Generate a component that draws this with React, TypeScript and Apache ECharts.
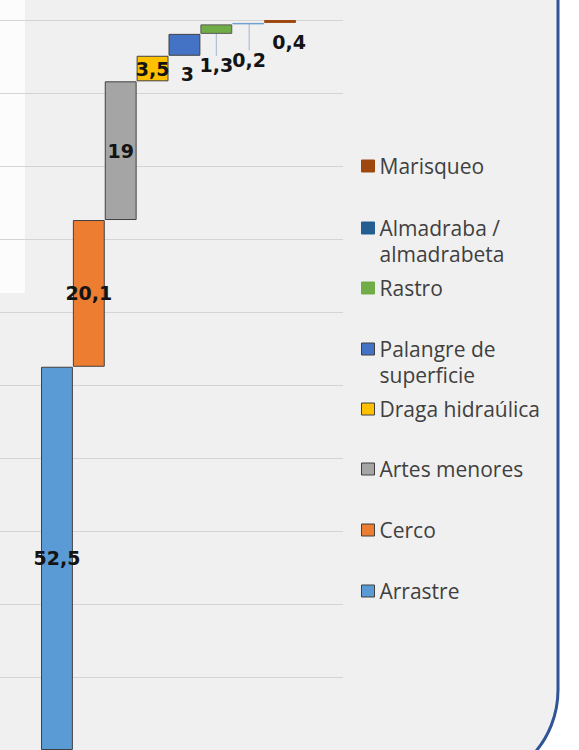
import React, { useEffect, useRef } from 'react';
import * as echarts from 'echarts';

const categories = [
  'Arrastre',
  'Cerco',
  'Artes menores',
  'Draga hidraúlica',
  'Palangre de superficie',
  'Rastro',
  'Almadraba / almadrabeta',
  'Marisqueo',
];
const values = [52.5, 20.1, 19, 3.5, 3, 1.3, 0.2, 0.4];
const colors = ['#5b9bd5', '#ed7d31', '#a5a5a5', '#ffc000', '#4472c4', '#70ad47', '#255e91', '#9e480e'];
const legendOrder = [
  'Marisqueo',
  'Almadraba / almadrabeta',
  'Rastro',
  'Palangre de superficie',
  'Draga hidraúlica',
  'Artes menores',
  'Cerco',
  'Arrastre',
];
const legendText: Record<string, string> = {
  'Almadraba / almadrabeta': '\nAlmadraba /\nalmadrabeta',
  'Palangre de superficie': '\nPalangre de\nsuperficie',
};
const yMin = 0;
const yMax = 100;
const yInterval = 10;

// layout (not data)
const legendCenters = [166, 228, 288, 349, 409, 469, 530, 591];
const labelPlacement: any[] = [
  { position: 'inside' },
  { position: 'inside' },
  { position: 'inside' },
  { position: 'inside' },
  { position: 'bottom', distance: 9, layout: { dx: 3, dy: 0 } },
  { position: 'bottom', distance: 5, layout: { dx: 0, dy: 17 }, line: true },
  { position: 'bottom', distance: 5, layout: { dx: 1, dy: 21 }, line: true },
  { position: 'bottom', distance: 5, layout: { dx: 9, dy: 5 } },
];
const borderColors = ['#404040', '#404040', '#404040', '#404040', '#404040', '#5a5a5a', '#6fa0cf', '#9e480e'];
const legendBorder = ['#404040', '#404040', '#404040', '#404040', '#404040', '#70ad47', '#255e91', '#9e480e'];

const fmt = (v: number) => String(v).replace('.', ',');

export default function App() {
  const ref = useRef<HTMLDivElement>(null);
  useEffect(() => {
    if (!ref.current) return;
    const chart = echarts.init(ref.current, undefined, { renderer: 'svg' });

    const base: number[] = [];
    let acc = 0;
    values.forEach((v) => {
      base.push(acc);
      acc += v;
    });

    const series: any[] = [
      {
        name: '__base',
        type: 'bar',
        xAxisIndex: 1,
        yAxisIndex: 1,
        stack: 'w',
        data: base,
        silent: true,
        itemStyle: { color: 'transparent', borderWidth: 0 },
        barCategoryGap: '0%',
        clip: false,
      },
    ];
    categories.forEach((name, i) => {
      const p = labelPlacement[i];
      const s: any = {
        name,
        type: 'bar',
        xAxisIndex: 1,
        yAxisIndex: 1,
        stack: 'w',
        barCategoryGap: '0%',
        clip: false,
        data: categories.map((_, j) => (j === i ? values[i] : '-')),
        itemStyle: { color: colors[i], borderColor: borderColors[i], borderWidth: 1 },
        label: {
          show: true,
          position: p.position,
          distance: p.distance,
          formatter: (d: any) => fmt(d.value),
          color: '#141414',
          fontFamily: 'DejaVu Sans',
          fontWeight: 'bold',
          fontSize: 19,
        },
      };
      if (p.layout) s.labelLayout = p.layout;
      if (p.line) s.labelLine = { show: true, lineStyle: { color: '#9fb6cf', width: 1 } };
      series.push(s);
    });

    const legends = legendOrder.map((name, k) => {
      const multi = !!legendText[name];
      const lh = 26;
      const boxH = multi ? lh * 3 : lh;
      const ci = categories.indexOf(name);
      return {
        data: [{ name, icon: 'rect' }],
        left: 361,
        top: legendCenters[k] - boxH / 2,
        orient: 'vertical',
        padding: 0,
        itemWidth: 13,
        itemHeight: 12,
        itemGap: 0,
        selectedMode: false,
        itemStyle: { borderColor: legendBorder[ci], borderWidth: 1 },
        formatter: (n: string) => legendText[n] || n,
        textStyle: {
          color: '#404040',
          fontFamily: 'Open Sans',
          fontSize: 21,
          lineHeight: lh,
        },
      };
    });

    chart.setOption({
      animation: false,
      backgroundColor: '#ffffff',
      graphic: [
        {
          type: 'rect',
          z: -10,
          shape: { x: -100, y: -100, width: 658, height: 886, r: 96 },
          style: { fill: '#f0f0f0', stroke: '#2f5597', lineWidth: 3 },
        },
        {
          type: 'rect',
          z: -9,
          shape: { x: 0, y: 0, width: 25, height: 293 },
          style: { fill: '#fcfcfc' },
        },
      ],
      grid: [
        { left: -20, right: 236, top: 20, bottom: -10 },
        { left: 41, right: 283, top: 20, bottom: -10 },
      ],
      xAxis: [
        { type: 'category', gridIndex: 0, data: categories, show: false },
        { type: 'category', gridIndex: 1, data: categories, show: false },
      ],
      yAxis: [
        {
          type: 'value',
          gridIndex: 0,
          min: yMin,
          max: yMax,
          interval: yInterval,
          axisLabel: { show: false },
          axisLine: { show: false },
          axisTick: { show: false },
          splitLine: { show: true, lineStyle: { color: '#d4d4d4', width: 1 } },
        },
        {
          type: 'value',
          gridIndex: 1,
          min: yMin,
          max: yMax,
          interval: yInterval,
          show: false,
          splitLine: { show: false },
        },
      ],
      legend: legends,
      series,
    });
    return () => chart.dispose();
  }, []);
  return (
    <div
      ref={ref}
      style={{ position: 'fixed', left: 0, top: 0, width: 579, height: 750 }}
    />
  );
}
